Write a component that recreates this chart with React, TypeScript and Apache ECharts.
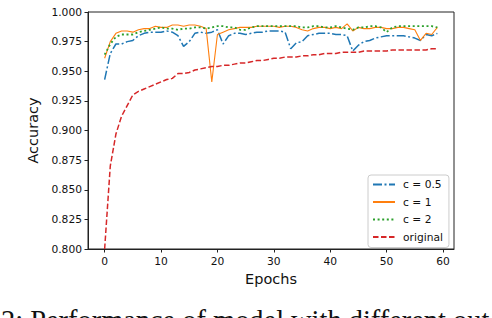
import React, { useEffect, useRef } from "react";
import * as echarts from "echarts";

const epochs: number[] = Array.from({ length: 60 }, (_, i) => i);

const c05: number[] = [
  0.943, 0.965, 0.973, 0.973, 0.975, 0.976, 0.980, 0.982, 0.983, 0.983,
  0.983, 0.984, 0.983, 0.980, 0.971, 0.975, 0.982, 0.983, 0.982, 0.983,
  0.985, 0.973, 0.980, 0.982, 0.982, 0.981, 0.982, 0.983, 0.983, 0.984,
  0.984, 0.984, 0.983, 0.969, 0.974, 0.975, 0.980, 0.981, 0.982, 0.982,
  0.982, 0.981, 0.981, 0.980, 0.967, 0.972, 0.975, 0.976, 0.978, 0.979,
  0.980, 0.980, 0.980, 0.980, 0.979, 0.978, 0.976, 0.981, 0.980, 0.982,
];

const c1: number[] = [
  0.961, 0.975, 0.982, 0.984, 0.984, 0.983, 0.985, 0.986, 0.986, 0.988,
  0.987, 0.987, 0.989, 0.989, 0.988, 0.989, 0.989, 0.988, 0.986, 0.941,
  0.981, 0.983, 0.985, 0.986, 0.987, 0.987, 0.987, 0.988, 0.988, 0.988,
  0.988, 0.987, 0.988, 0.988, 0.987, 0.985, 0.984, 0.986, 0.987, 0.987,
  0.986, 0.987, 0.986, 0.990, 0.984, 0.987, 0.986, 0.986, 0.987, 0.987,
  0.986, 0.986, 0.987, 0.987, 0.986, 0.985, 0.976, 0.982, 0.981, 0.987,
];

const c2: number[] = [
  0.964, 0.973, 0.979, 0.981, 0.981, 0.981, 0.983, 0.984, 0.985, 0.986,
  0.987, 0.986, 0.986, 0.985, 0.986, 0.986, 0.987, 0.987, 0.986, 0.987,
  0.988, 0.988, 0.987, 0.987, 0.985, 0.985, 0.987, 0.988, 0.988, 0.988,
  0.988, 0.988, 0.988, 0.988, 0.988, 0.987, 0.987, 0.988, 0.988, 0.987,
  0.987, 0.988, 0.987, 0.986, 0.985, 0.987, 0.987, 0.988, 0.988, 0.987,
  0.983, 0.987, 0.988, 0.988, 0.988, 0.988, 0.988, 0.988, 0.988, 0.987,
];

const original: number[] = [
  0.800, 0.870, 0.897, 0.912, 0.921, 0.930, 0.933, 0.935, 0.937, 0.939,
  0.941, 0.943, 0.944, 0.948, 0.948, 0.949, 0.951, 0.952, 0.953, 0.954,
  0.954, 0.955, 0.955, 0.956, 0.957, 0.957, 0.958, 0.959, 0.959, 0.960,
  0.961, 0.961, 0.962, 0.962, 0.962, 0.963, 0.963, 0.964, 0.964, 0.965,
  0.965, 0.965, 0.966, 0.966, 0.966, 0.966, 0.967, 0.967, 0.967, 0.967,
  0.967, 0.968, 0.968, 0.968, 0.968, 0.968, 0.968, 0.968, 0.969, 0.969,
];

const seriesNames: string[] = ["c = 0.5", "c = 1", "c = 2", "original"];
const xTicks: number[] = [0, 10, 20, 30, 40, 50, 60];
const caption = "2: Performance of model with different out";

export default function App() {
  const ref = useRef<HTMLDivElement>(null);

  useEffect(() => {
    document.body.style.margin = "0";
    if (!ref.current) return;
    const chart = echarts.init(ref.current, null, { renderer: "svg" });
    const font = "DejaVu Sans";
    const toPairs = (arr: number[]) => epochs.map((e, i) => [e, arr[i]]);
    const styles = [
      { color: "#1f77b4", type: [9, 2.5, 2, 2.5], width: 1.5 },
      { color: "#ff7f0e", type: "solid", width: 1.1 },
      { color: "#2ca02c", type: [2, 2.6], width: 1.8 },
      { color: "#d62728", type: [5.5, 2.5], width: 1.5 },
    ];
    const data = [c05, c1, c2, original];
    chart.setOption({
      animation: false,
      backgroundColor: "#ffffff",
      grid: {
        left: 88,
        top: 12,
        width: 366,
        height: 237,
        show: true,
        borderColor: "#222",
        borderWidth: 1,
        backgroundColor: "transparent",
      },
      xAxis: {
        type: "value",
        min: -2.95,
        max: 61.95,
        name: "Epochs",
        nameLocation: "middle",
        nameGap: 22,
        nameTextStyle: { fontFamily: font, fontSize: 14.5, color: "#111" },
        axisLine: { show: true, onZero: false, lineStyle: { color: "#222", width: 1 } },
        axisTick: {
          show: true,
          inside: false,
          length: 3.5,
          customValues: xTicks,
          lineStyle: { color: "#222" },
        },
        axisLabel: {
          customValues: xTicks,
          fontFamily: font,
          fontSize: 10.7,
          color: "#111",
          margin: 7,
        },
        splitLine: { show: false },
      },
      yAxis: {
        type: "value",
        min: 0.8,
        max: 1.0,
        interval: 0.025,
        name: "Accuracy",
        nameLocation: "middle",
        nameGap: 45,
        nameTextStyle: { fontFamily: font, fontSize: 14.5, color: "#111" },
        axisLine: { show: true, onZero: false, lineStyle: { color: "#222", width: 1 } },
        axisTick: {
          show: true,
          inside: false,
          length: 3.5,
          lineStyle: { color: "#222" },
        },
        axisLabel: {
          fontFamily: font,
          fontSize: 10.7,
          color: "#111",
          margin: 6,
          formatter: (v: number) => v.toFixed(3),
        },
        splitLine: { show: false },
      },
      legend: {
        orient: "vertical",
        left: 368,
        top: 175,
        itemWidth: 22,
        itemHeight: 10,
        itemGap: 6.5,
        padding: [4, 6, 5, 4],
        backgroundColor: "rgba(255,255,255,0.8)",
        borderColor: "#cccccc",
        borderWidth: 1,
        borderRadius: 3,
        itemStyle: { opacity: 0 },
        textStyle: {
          fontFamily: font,
          fontSize: 10.7,
          color: "#111",
          padding: [0, 0, 0, 3],
        },
        data: seriesNames,
      },
      series: data.map((arr, i) => ({
        name: seriesNames[i],
        type: "line",
        data: toPairs(arr),
        showSymbol: false,
        symbol: "none",
        clip: true,
        lineStyle: {
          color: styles[i].color,
          type: styles[i].type,
          width: styles[i].width,
        },
        itemStyle: { color: styles[i].color },
      })),
      graphic: [
        {
          type: "text",
          left: 1,
          top: 306,
          style: {
            text: caption,
            font: "28.4px 'Liberation Serif'",
            fill: "#111",
          },
        },
      ],
    });
    return () => chart.dispose();
  }, []);

  return <div ref={ref} style={{ width: 492, height: 318 }} />;
}
